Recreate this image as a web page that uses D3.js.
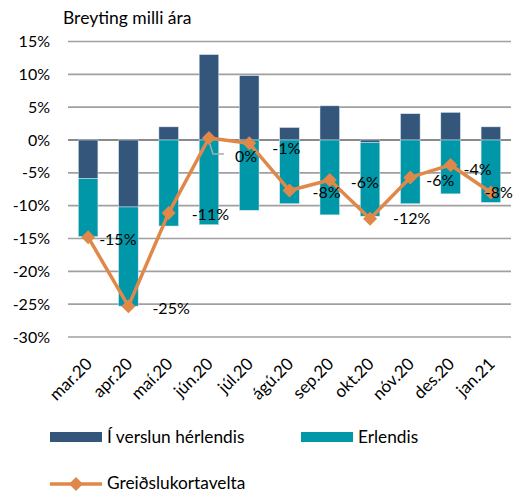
<!DOCTYPE html>
<html><head><meta charset="utf-8">
<script src="https://cdn.jsdelivr.net/npm/d3@7"></script>
<style>body{margin:0;background:#fff}svg{display:block}text{font-family:Lato,"Open Sans",sans-serif}</style>
</head><body>
<script>
const categories = ["mar.20","apr.20","maí.20","jún.20","júl.20","ágú.20","sep.20","okt.20","nóv.20","des.20","jan.21"];
const domestic = [-5.9,-10.2,2.0,13.0,9.8,1.9,5.2,-0.4,4.0,4.2,2.0];
const foreign = [-8.8,-15.1,-13.1,-12.9,-10.7,-9.7,-11.4,-11.2,-9.7,-8.2,-9.5];
const total = [-14.8,-25.3,-11.1,0.3,-0.5,-7.7,-6.1,-12.0,-5.7,-3.8,-8.0];
const totalLabels = ["-15%","-25%","-11%","0%","-1%","-8%","-6%","-12%","-6%","-4%","-8%"];
const labelDx = [11,24,23,26,23,23,21,23,16,13,-6];
const labelDy = [2,2,2,18,5,2,2,0,3,4,0];
const yTicks = [15,10,5,0,-5,-10,-15,-20,-25,-30];
const seriesNames = ["Í verslun hérlendis","Erlendis","Greiðslukortavelta"];
const colors = {dom:"#34567A", for:"#0097A8", line:"#E0884A"};

const W=526,H=491;
const svg=d3.select("body").append("svg").attr("width",W).attr("height",H);
const x=d3.scaleBand().domain(categories).range([68,511]).paddingInner(0.515).paddingOuter(0.2575);
const y=d3.scaleLinear().domain([-30,15]).range([337,41.5]);

svg.append("text").attr("x",63).attr("y",24).attr("font-size",17.5).attr("fill","#000").text("Breyting milli ára");

// grid
svg.append("g").selectAll("line").data(yTicks).join("line")
  .attr("x1",68).attr("x2",511).attr("y1",d=>y(d)).attr("y2",d=>y(d))
  .attr("stroke",d=>d===0?"#8a8a8a":"#a0a0a0").attr("stroke-width",d=>d===0?2:1.6);

// y labels
svg.append("g").selectAll("text").data(yTicks).join("text")
  .attr("x",50).attr("y",d=>y(d)).attr("dy","0.35em").attr("text-anchor","end")
  .attr("font-size",16).attr("fill","#000").text(d=>d+"%");

// stacked bars
const rows=categories.map((c,i)=>({cat:c,dom:domestic[i],for:foreign[i]}));
const stack=d3.stack().keys(["dom","for"]).offset(d3.stackOffsetDiverging)(rows);
svg.append("g").selectAll("g").data(stack).join("g").attr("fill",s=>colors[s.key])
  .selectAll("rect").data(s=>s).join("rect")
  .attr("x",d=>x(d.data.cat)).attr("width",x.bandwidth())
  .attr("y",d=>y(Math.max(d[0],d[1]))).attr("height",d=>Math.abs(y(d[0])-y(d[1])))
  .attr("stroke","#d6e6ee").attr("stroke-width",0.5);

// x labels
const cx=c=>x(c)+x.bandwidth()/2;
svg.append("g").selectAll("text").data(categories).join("text")
  .attr("transform",d=>`translate(${cx(d)+5},${365}) rotate(-45)`)
  .attr("text-anchor","end").attr("font-size",17).attr("fill","#000").text(d=>d);

// line
const pts=categories.map((c,i)=>[cx(c),y(total[i])]);
svg.append("path").attr("d",d3.line()(pts)).attr("fill","none").attr("stroke",colors.line).attr("stroke-width",3.5).attr("stroke-linejoin","round");
const diamond="M0,-7L7,0L0,7L-7,0Z";
svg.append("g").selectAll("path").data(pts).join("path")
  .attr("transform",d=>`translate(${d[0]},${d[1]})`).attr("d",diamond).attr("fill",colors.line);

// leader line for jún label
const ji=3;
svg.append("path").attr("d",`M${pts[ji][0]+1},${pts[ji][1]+6}L${pts[ji][0]+4},${pts[ji][1]+16}L${pts[ji][0]+15},${pts[ji][1]+16}`)
  .attr("fill","none").attr("stroke","#aaaaaa").attr("stroke-width",1.5);

// data labels
svg.append("g").selectAll("text").data(totalLabels).join("text")
  .attr("x",(d,i)=>pts[i][0]+labelDx[i]).attr("y",(d,i)=>pts[i][1]+labelDy[i]).attr("dy","0.35em")
  .attr("font-size",16).attr("fill","#000").text(d=>d);

// legend
const lg=svg.append("g");
lg.append("rect").attr("x",50).attr("y",432).attr("width",52).attr("height",10).attr("fill",colors.dom);
lg.append("text").attr("x",107).attr("y",437).attr("dy","0.35em").attr("font-size",17.3).text(seriesNames[0]);
lg.append("rect").attr("x",301).attr("y",432).attr("width",52).attr("height",10).attr("fill",colors.for);
lg.append("text").attr("x",358).attr("y",437).attr("dy","0.35em").attr("font-size",17.3).text(seriesNames[1]);
lg.append("line").attr("x1",50).attr("x2",102).attr("y1",484).attr("y2",484).attr("stroke",colors.line).attr("stroke-width",3.5);
lg.append("path").attr("transform","translate(76,484)").attr("d",diamond).attr("fill",colors.line);
lg.append("text").attr("x",107).attr("y",483).attr("dy","0.35em").attr("font-size",17.3).text(seriesNames[2]);
</script>
</body></html>
